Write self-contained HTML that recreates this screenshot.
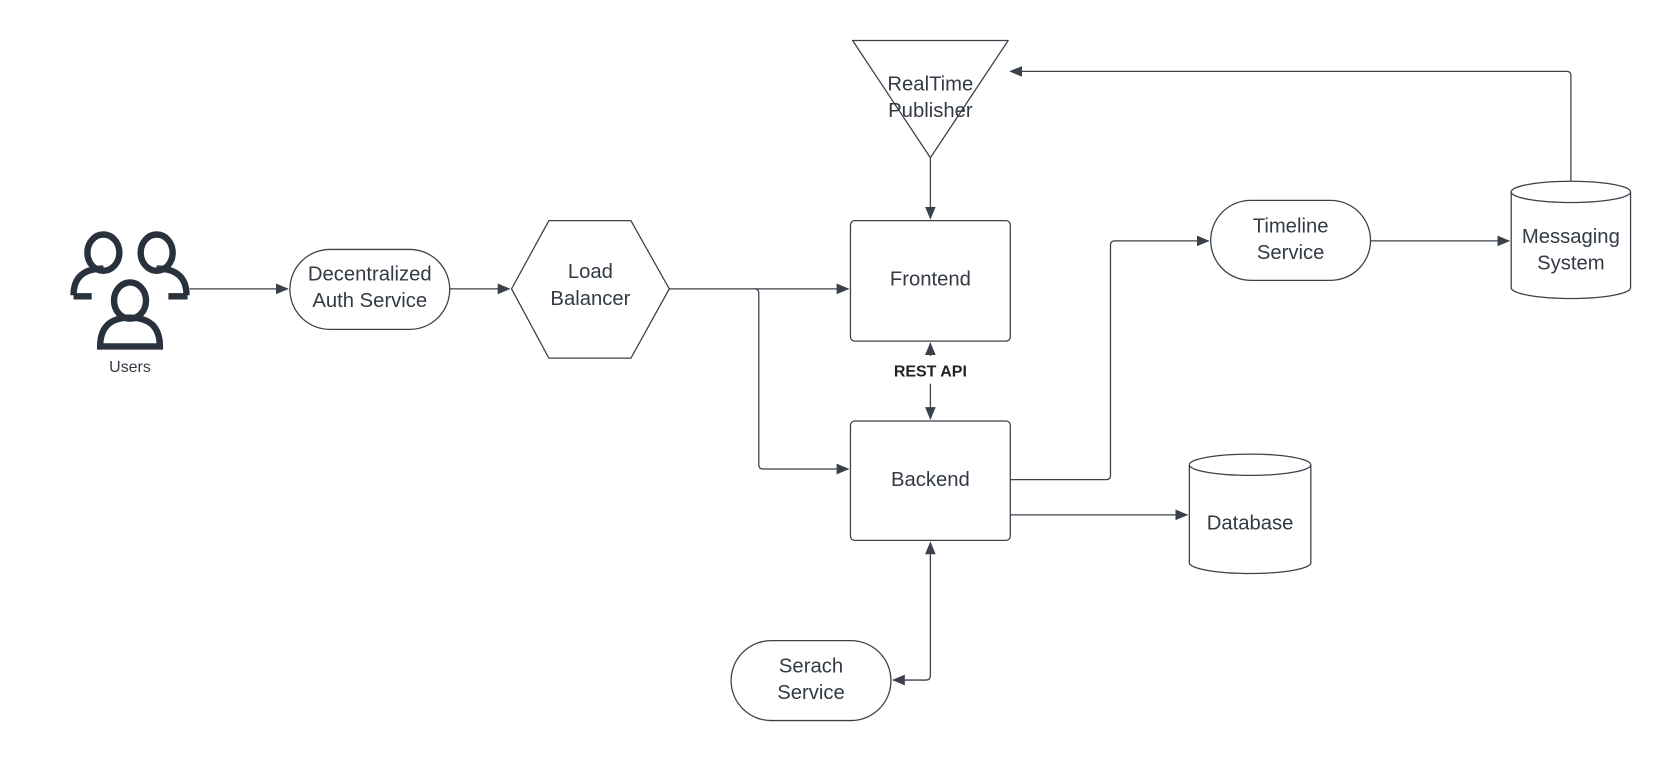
<!DOCTYPE html>
<html><head><meta charset="utf-8"><style>
html,body{margin:0;padding:0;background:#fff;}
svg{display:block;}
text{font-family:"Liberation Sans",Arial,sans-serif;fill:#333a44;}
</style></head><body>
<svg width="1670" height="760" viewBox="0 0 1567 713" preserveAspectRatio="none" xmlns="http://www.w3.org/2000/svg">
<defs>
<marker id="a" markerWidth="12" markerHeight="10" refX="11" refY="5" orient="auto" markerUnits="userSpaceOnUse">
<path d="M0,0 L12,5 L0,10 Z" fill="#3a414a"/></marker>
</defs>
<rect width="1567" height="713" fill="#fff"/>
<g fill="none" stroke="#3a414a" stroke-width="1.2">
<path d="M178,271 H270" marker-end="url(#a)"/>
<path d="M422,271 H478" marker-end="url(#a)"/>
<path d="M628,271 H796" marker-end="url(#a)"/>
<path d="M708,271 Q712,271 712,275 V436 Q712,440 716,440 H796" marker-end="url(#a)"/>
<path d="M873,148 V205" marker-end="url(#a)"/>
<path d="M873,334 V322" marker-end="url(#a)"/>
<path d="M873,360 V393" marker-end="url(#a)"/>
<path d="M948,450 H1038 Q1042,450 1042,446 V230 Q1042,226 1046,226 H1134" marker-end="url(#a)"/>
<path d="M1286,226 H1416" marker-end="url(#a)"/>
<path d="M1474,170 V71 Q1474,67 1470,67 H948" marker-end="url(#a)"/>
<path d="M948,483 H1114" marker-end="url(#a)"/>
<path d="M873,509 V634 Q873,638 869,638 H838" marker-end="url(#a)"/>
<path d="M873,520 V509" marker-end="url(#a)"/>
</g>
<g fill="#fff" stroke="#3a414a" stroke-width="1.2">
<rect x="272" y="234" width="150" height="75" rx="37.5"/>
<path d="M515,207 H592 L628,271 L592,336 H515 L480,271 Z"/>
<rect x="798" y="207" width="150" height="113" rx="4"/>
<rect x="798" y="395" width="150" height="112" rx="4"/>
<path d="M800,38 H946 L873,148 Z" stroke-linejoin="round"/>
<rect x="1136" y="188" width="150" height="75" rx="37.5"/>
<rect x="686" y="601" width="150" height="75" rx="37.5"/>
<path d="M1418,180 V270 A56,10 0 0 0 1530,270 V180 A56,10 0 0 0 1418,180 Z"/>
<path d="M1418,180 A56,10 0 0 0 1530,180"/>
<path d="M1116,436 V528 A57,10 0 0 0 1230,528 V436 A57,10 0 0 0 1116,436 Z"/>
<path d="M1116,436 A57,10 0 0 0 1230,436"/>
</g>
<g fill="none" stroke="#29313c" stroke-width="6">
<ellipse cx="97" cy="237" rx="15" ry="17"/>
<path d="M69,277 Q69,252 97,252"/>
<path d="M69,278 H86"/>
<ellipse cx="147" cy="237" rx="15" ry="17"/>
<path d="M175,277 Q175,252 147,252"/>
<path d="M158,278 H176"/>
<ellipse cx="122" cy="282" rx="15" ry="17"/>
<path d="M94,325 Q94,298 122,298 Q150,298 150,325 Z"/>
</g>
<rect x="118" y="248" width="8" height="12" fill="#fff"/>
<text x="122" y="349" font-size="15" text-anchor="middle">Users</text>
<g font-size="19" text-anchor="middle">
<text x="347" y="263">Decentralized</text>
<text x="347" y="288">Auth Service</text>
<text x="554" y="261">Load</text>
<text x="554" y="286">Balancer</text>
<text x="873" y="268">Frontend</text>
<text x="873" y="456">Backend</text>
<text x="873" y="85">RealTime</text>
<text x="873" y="110">Publisher</text>
<text x="1211" y="218">Timeline</text>
<text x="1211" y="243">Service</text>
<text x="1474" y="228">Messaging</text>
<text x="1474" y="253">System</text>
<text x="1173" y="497">Database</text>
<text x="761" y="631">Serach</text>
<text x="761" y="656">Service</text>
</g>
<text x="873" y="353" font-size="15" font-weight="bold" text-anchor="middle" style="fill:#222">REST API</text>
</svg>
</body></html>
